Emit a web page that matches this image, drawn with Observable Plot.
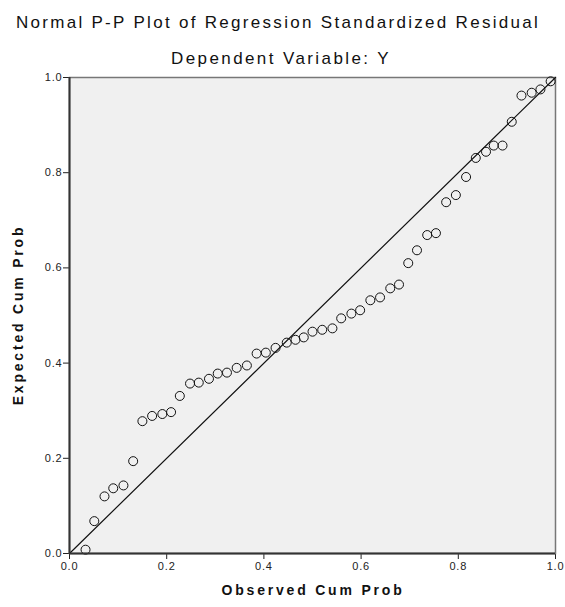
<!DOCTYPE html>
<html>
<head>
<meta charset="utf-8">
<script src="https://cdn.jsdelivr.net/npm/d3@7"></script>
<script src="https://cdn.jsdelivr.net/npm/@observablehq/plot@0.6"></script>
<style>
  body { margin: 0; background: #ffffff; }
  #wrap { position: relative; width: 565px; height: 607px; background: #ffffff;
          font-family: "Liberation Sans", Arial, sans-serif; color: #111; overflow: hidden; }
  .t { position: absolute; text-align: center; white-space: nowrap; }
  #title { top: 13px; left: 0; width: 556px; font-size: 17px; line-height: 20px; letter-spacing: 2.3px; }
  #subtitle { top: 49px; left: 0; width: 562px; font-size: 17px; line-height: 20px; letter-spacing: 2.4px; }
  #xlabel { top: 581px; left: 213px; width: 200px; font-size: 14px; line-height: 18px; font-weight: bold; letter-spacing: 2.8px; }
  #ylabel { top: 306px; left: -82px; width: 200px; font-size: 14px; line-height: 18px; font-weight: bold; letter-spacing: 2.8px;
            transform: rotate(-90deg); transform-origin: 50% 50%; }
  #chart { position: absolute; top: 70px; left: 0; }
  #chart svg text { letter-spacing: 0.8px; }
</style>
</head>
<body>
<div id="wrap">
  <div id="title" class="t">Normal P-P Plot of Regression Standardized Residual</div>
  <div id="subtitle" class="t">Dependent Variable: Y</div>
  <div id="chart"></div>
  <div id="xlabel" class="t">Observed Cum Prob</div>
  <div id="ylabel" class="t">Expected Cum Prob</div>
</div>
<script>
// Observed cumulative probability (x) of each residual
const obsCumProb = [
  0.033, 0.051, 0.072, 0.090, 0.111, 0.131, 0.150, 0.170, 0.191, 0.209,
  0.227, 0.248, 0.266, 0.287, 0.305, 0.324, 0.344, 0.365, 0.385, 0.404,
  0.424, 0.447, 0.465, 0.482, 0.500, 0.520, 0.541, 0.559, 0.580, 0.598,
  0.619, 0.639, 0.660, 0.678, 0.697, 0.715, 0.736, 0.754, 0.775, 0.795,
  0.816, 0.836, 0.857, 0.873, 0.891, 0.910, 0.930, 0.951, 0.969, 0.990
];
// Expected cumulative probability (y) of each residual
const expCumProb = [
  0.008, 0.068, 0.120, 0.137, 0.143, 0.194, 0.278, 0.289, 0.293, 0.297,
  0.331, 0.357, 0.359, 0.367, 0.378, 0.380, 0.390, 0.395, 0.420, 0.422,
  0.432, 0.443, 0.449, 0.454, 0.466, 0.470, 0.473, 0.494, 0.504, 0.511,
  0.532, 0.538, 0.557, 0.565, 0.610, 0.637, 0.669, 0.673, 0.738, 0.753,
  0.791, 0.831, 0.844, 0.857, 0.857, 0.907, 0.962, 0.968, 0.975, 0.992
];
const tickValues = [0.0, 0.2, 0.4, 0.6, 0.8, 1.0];
const refLine = [0, 1];

const points = obsCumProb.map((x, i) => ({x, y: expCumProb[i]}));
const fmt = d3.format(".1f");

const chart = Plot.plot({
  width: 565,
  height: 537,
  marginTop: 7,
  marginRight: 10,
  marginBottom: 54,
  marginLeft: 69,
  style: {fontFamily: "'Liberation Sans', Arial, sans-serif", fontSize: "11px", background: "transparent", color: "#222", overflow: "visible"},
  x: {domain: [0, 1], ticks: tickValues, tickFormat: fmt, tickSize: 6, tickPadding: 3, label: null},
  y: {domain: [0, 1], ticks: tickValues, tickFormat: fmt, tickSize: 6, tickPadding: 1, label: null},
  marks: [
    Plot.frame({fill: "#f0f0f0", stroke: "#777", strokeWidth: 1.5}),
    Plot.line(refLine, {x: d => d, y: d => d, stroke: "#111", strokeWidth: 1.2}),
    Plot.dot(points, {x: "x", y: "y", r: 4.5, stroke: "#111", strokeWidth: 1, fill: "none"}),
    Plot.ruleX([0], {stroke: "#333", strokeWidth: 2}),
    Plot.ruleY([0], {stroke: "#333", strokeWidth: 2})
  ]
});
document.getElementById("chart").appendChild(chart);
</script>
</body>
</html>
